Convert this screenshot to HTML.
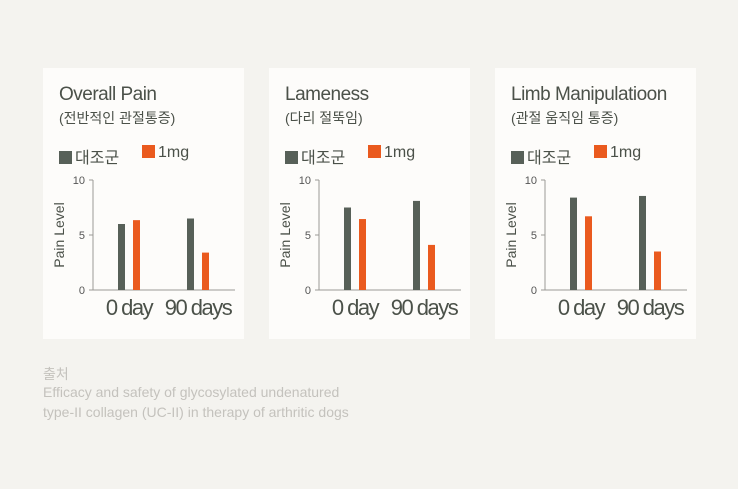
<!DOCTYPE html>
<html><head><meta charset="utf-8"><style>
body{margin:0;width:738px;height:489px;background:#f4f3ef;font-family:"Liberation Sans","Noto Sans CJK KR",sans-serif;position:relative;overflow:hidden}
.panel{position:absolute;top:68px;width:201px;height:271px;background:#fdfcfa}
.title{position:absolute;left:16px;top:16px;font-size:19px;color:#4b5149;letter-spacing:-0.5px;white-space:nowrap}
.sub{position:absolute;left:16px;top:40px;font-size:14px;color:#4b5149;white-space:nowrap}
.leg{position:absolute;top:76px;font-size:16px;color:#4b5149;white-space:nowrap}
.sw{display:inline-block;width:13px;height:13px;vertical-align:-1px;margin-right:3px}
svg{position:absolute;left:0;top:0}
.src{position:absolute;left:43px;font-size:14px;color:#c4c2bd;white-space:nowrap}
</style></head><body>
<div id="root"></div>
<div class="src" style="top:364px">출처</div>
<div class="src" style="top:384px">Efficacy and safety of glycosylated undenatured</div>
<div class="src" style="top:404px">type-II collagen (UC-II) in therapy of arthritic dogs</div>
<script>
const titles=["Overall Pain","Lameness","Limb Manipulatioon"];
const subtitles=["(전반적인 관절통증)","(다리 절뚝임)","(관절 움직임 통증)"];
const categories=["0 day","90 days"];
const controlValues=[[6.0,6.5],[7.5,8.1],[8.4,8.55]];
const treatValues=[[6.35,3.4],[6.45,4.1],[6.7,3.5]];
const yTicks=[0,5,10];
const NS="http://www.w3.org/2000/svg";
const root=document.getElementById('root');
function y(v){return 222-v*11;}
function x(i){return 75+i*69;}
titles.forEach((t,p)=>{
  const d=document.createElement('div');d.className='panel';d.style.left=(43+p*226)+'px';
  
  
  d.innerHTML='<div class="title">'+t+'</div>'+
  '<div class="sub">'+subtitles[p]+'</div>'+
  '<div class="leg" style="left:16px"><span class="sw" style="background:#576058"></span>대조군</div>'+
  '<div class="leg" style="left:99px"><span class="sw" style="background:#ea5a1e"></span>1mg</div>';
  const s=document.createElementNS(NS,'svg');s.setAttribute('width','201');s.setAttribute('height','271');
  
  
  let h='<line x1="50" y1="'+y(10)+'" x2="50" y2="'+y(0)+'" stroke="#9a9a96" stroke-width="1"/>'+
  '<line x1="50" y1="'+y(0)+'" x2="192" y2="'+y(0)+'" stroke="#9a9a96" stroke-width="1"/>';
  yTicks.forEach(v=>{h+='<line x1="46" x2="50" y1="'+y(v)+'" y2="'+y(v)+'" stroke="#9a9a96"/><text x="42" y="'+(y(v)+4)+'" font-size="11" fill="#555" text-anchor="end">'+v+'</text>';});
  h+='<text transform="translate(21,167) rotate(-90)" font-size="14" fill="#4b5149" text-anchor="middle">Pain Level</text>';
  categories.forEach((c,i)=>{
    const cv=controlValues[p][i],tv=treatValues[p][i];
    h+='<rect x="'+x(i)+'" y="'+y(cv)+'" width="7" height="'+(cv*11)+'" fill="#576058"/>';
    h+='<rect x="'+(x(i)+15)+'" y="'+y(tv)+'" width="7" height="'+(tv*11)+'" fill="#ea5a1e"/>';
    h+='<text x="'+(x(i)+11)+'" y="'+(y(0)+25)+'" font-size="22" fill="#4b5149" text-anchor="middle" letter-spacing="-1.5">'+c+'</text>';
  });
  s.innerHTML=h;d.appendChild(s);root.appendChild(d);
});
</script>
</body></html>
